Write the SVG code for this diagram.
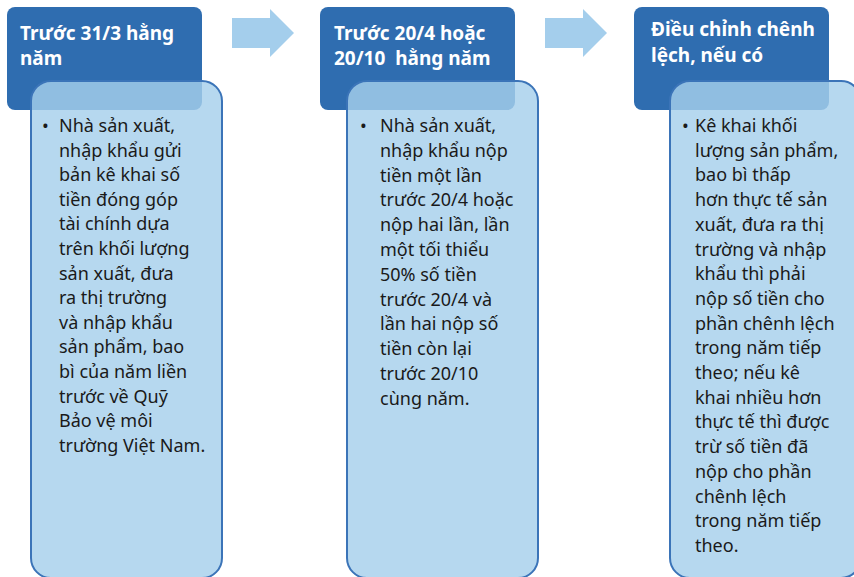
<svg xmlns="http://www.w3.org/2000/svg" width="854" height="577" viewBox="0 0 854 577">
<style>
.hdr{fill:#2F6DB0}
.body{fill:#A6CFEB;fill-opacity:0.82;stroke:#3B74B8;stroke-width:2}
.arrow{fill:#A4CEEC}
.ht{font-family:"Noto Sans","Liberation Sans",sans-serif;font-weight:bold;font-size:19px;fill:#FFFFFF}
.bt{font-family:"Noto Sans","Liberation Sans",sans-serif;font-size:18px;fill:#1A1A1A}
</style>
<rect width="854" height="577" fill="#FFFFFF"/>
<g id="connectors">
<polygon class="arrow" points="232,18 270,18 270,9 294,33 270,57 270,48 232,48"/>
<polygon class="arrow" points="545,18 583,18 583,9 607,33 583,57 583,48 545,48"/>
</g>
<g id="step1">
<rect class="hdr" x="7" y="7" width="195" height="103" rx="8"/>
<text class="ht" x="20" y="40">Trước 31/3 hằng</text>
<text class="ht" x="20" y="65">năm</text>
<rect class="body" x="31" y="81" width="191" height="497" rx="20"/>
<text class="bt"><tspan x="42" y="132">•</tspan>
<tspan x="59" y="132">Nhà sản xuất,</tspan>
<tspan x="59" y="156.6">nhập khẩu gửi</tspan>
<tspan x="59" y="181.2">bản kê khai số</tspan>
<tspan x="59" y="205.8">tiền đóng góp</tspan>
<tspan x="59" y="230.4">tài chính dựa</tspan>
<tspan x="59" y="255">trên khối lượng</tspan>
<tspan x="59" y="279.6">sản xuất, đưa</tspan>
<tspan x="59" y="304.2">ra thị trường</tspan>
<tspan x="59" y="328.8">và nhập khẩu</tspan>
<tspan x="59" y="353.4">sản phẩm, bao</tspan>
<tspan x="59" y="378">bì của năm liền</tspan>
<tspan x="59" y="402.6">trước về Quỹ</tspan>
<tspan x="59" y="427.2">Bảo vệ môi</tspan>
<tspan x="59" y="451.8">trường Việt Nam.</tspan></text>
</g>
<g id="step2">
<rect class="hdr" x="320" y="7" width="195" height="103" rx="8"/>
<text class="ht" x="334" y="40">Trước 20/4 hoặc</text>
<text class="ht" x="334" y="65" xml:space="preserve">20/10  hằng năm</text>
<rect class="body" x="347" y="81" width="191" height="497" rx="20"/>
<text class="bt"><tspan x="360" y="132">•</tspan>
<tspan x="380" y="132">Nhà sản xuất,</tspan>
<tspan x="380" y="156.8">nhập khẩu nộp</tspan>
<tspan x="380" y="181.6">tiền một lần</tspan>
<tspan x="380" y="206.4">trước 20/4 hoặc</tspan>
<tspan x="380" y="231.2">nộp hai lần, lần</tspan>
<tspan x="380" y="256">một tối thiểu</tspan>
<tspan x="380" y="280.8">50% số tiền</tspan>
<tspan x="380" y="305.6">trước 20/4 và</tspan>
<tspan x="380" y="330.4">lần hai nộp số</tspan>
<tspan x="380" y="355.2">tiền còn lại</tspan>
<tspan x="380" y="380">trước 20/10</tspan>
<tspan x="380" y="404.8">cùng năm.</tspan></text>
</g>
<g id="step3">
<rect class="hdr" x="634" y="7" width="195" height="103" rx="8"/>
<text class="ht" x="651" y="36">Điều chỉnh chênh</text>
<text class="ht" x="651" y="62">lệch, nếu có</text>
<rect class="body" x="670" y="81" width="191" height="497" rx="20"/>
<text class="bt"><tspan x="682" y="132">•</tspan>
<tspan x="695" y="132">Kê khai khối</tspan>
<tspan x="695" y="156.7">lượng sản phẩm,</tspan>
<tspan x="695" y="181.4">bao bì thấp</tspan>
<tspan x="695" y="206.1">hơn thực tế sản</tspan>
<tspan x="695" y="230.8">xuất, đưa ra thị</tspan>
<tspan x="695" y="255.5">trường và nhập</tspan>
<tspan x="695" y="280.2">khẩu thì phải</tspan>
<tspan x="695" y="304.9">nộp số tiền cho</tspan>
<tspan x="695" y="329.6">phần chênh lệch</tspan>
<tspan x="695" y="354.3">trong năm tiếp</tspan>
<tspan x="695" y="379">theo; nếu kê</tspan>
<tspan x="695" y="403.7">khai nhiều hơn</tspan>
<tspan x="695" y="428.4">thực tế thì được</tspan>
<tspan x="695" y="453.1">trừ số tiền đã</tspan>
<tspan x="695" y="477.8">nộp cho phần</tspan>
<tspan x="695" y="502.5">chênh lệch</tspan>
<tspan x="695" y="527.2">trong năm tiếp</tspan>
<tspan x="695" y="551.9">theo.</tspan></text>
</g>
</svg>
